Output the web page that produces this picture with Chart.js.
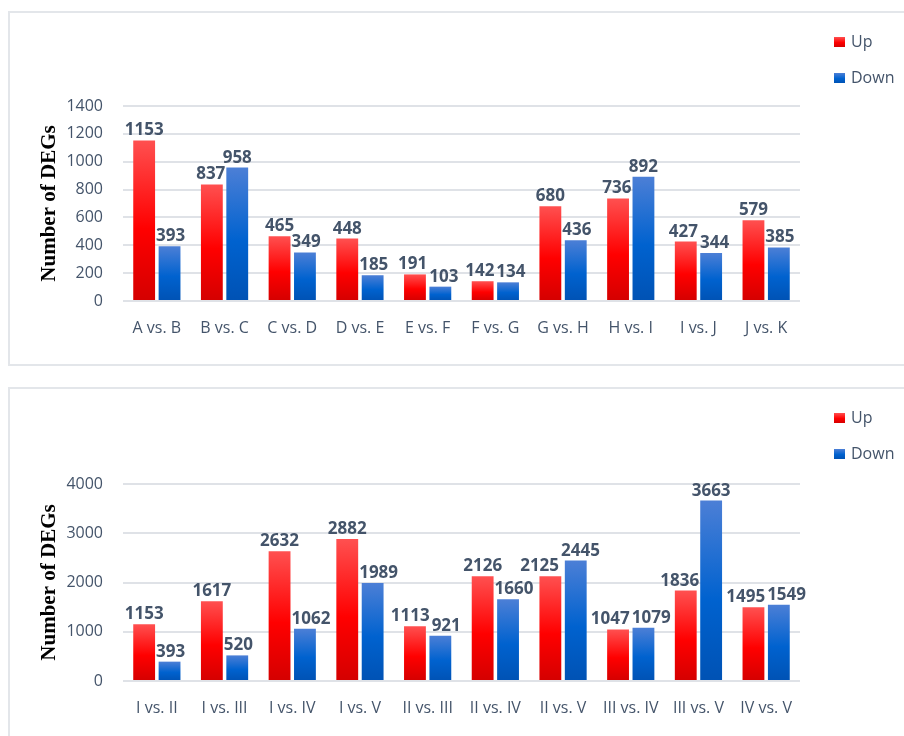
<!DOCTYPE html>
<html>
<head>
<meta charset="utf-8">
<script src="https://cdn.jsdelivr.net/npm/chart.js@4.4.1/dist/chart.umd.min.js"></script>
<style>
  html, body { margin: 0; padding: 0; background: #fff; overflow: hidden; }
  body { width: 904px; height: 736px; position: relative; }
  .panel { position: absolute; left: 8px; width: 1000px; border: 2px solid #e3e6ea; box-sizing: border-box; }
  #p1 { top: 11px; height: 355px; }
  #p2 { top: 387px; height: 400px; }
  .panel canvas { position: absolute; left: 0; top: 0; }
</style>
</head>
<body>
<div class="panel" id="p1"><canvas id="chart1" width="894" height="351"></canvas></div>
<div class="panel" id="p2"><canvas id="chart2" width="894" height="347"></canvas></div>

<script>
// Comparaciones y número de DEGs (arriba / abajo)
const seriesNames = ["Up", "Down"];

const groups1 = ["A vs. B", "B vs. C", "C vs. D", "D vs. E", "E vs. F",
                 "F vs. G", "G vs. H", "H vs. I", "I vs. J", "J vs. K"];
const up1   = [1153, 837, 465, 448, 191, 142, 680, 736, 427, 579];
const down1 = [393, 958, 349, 185, 103, 134, 436, 892, 344, 385];

const groups2 = ["I vs. II", "I vs. III", "I vs. IV", "I vs. V", "II vs. III",
                 "II vs. IV", "II vs. V", "III vs. IV", "III vs. V", "IV vs. V"];
const up2   = [1153, 1617, 2632, 2882, 1113, 2126, 2125, 1047, 1836, 1495];
const down2 = [393, 520, 1062, 1989, 921, 1660, 2445, 1079, 3663, 1549];

// eje Y: máximo y paso de cada gráfico
const yMax  = [1400, 4000];
const yStep = [200, 1000];

const TEXT = "#44546a";
const redStops  = ["#ff5050", "#ff0000", "#d40000"];
const blueStops = ["#4c7fd6", "#0062cf", "#0052b4"];

// degradado vertical por barra, desde su tope hasta la base
function barFill(stops) {
  return (c) => {
    const chart = c.chart;
    if (c.type !== "data" || !chart.chartArea) return stops[1];
    const y = chart.scales.y;
    const top = y.getPixelForValue(c.parsed.y);
    const base = y.getPixelForValue(0);
    const g = chart.ctx.createLinearGradient(0, top, 0, base);
    g.addColorStop(0, stops[0]);
    g.addColorStop(0.55, stops[1]);
    g.addColorStop(1, stops[2]);
    return g;
  };
}

// etiquetas de valor sobre cada barra; se apartan de la barra vecina
// más alta y de la otra etiqueta si chocan
const valueLabels = {
  id: "valueLabels",
  afterDatasetsDraw(chart) {
    const ctx = chart.ctx;
    ctx.save();
    ctx.font = 'bold 17px "Open Sans"';
    ctx.fillStyle = TEXT;
    ctx.textAlign = "center";
    ctx.textBaseline = "alphabetic";
    const n = chart.data.labels.length;
    for (let i = 0; i < n; i++) {
      const items = chart.data.datasets.map((ds, d) => {
        const bar = chart.getDatasetMeta(d).data[i];
        const text = String(ds.data[i]);
        return { text, bar, x: bar.x, y: bar.y - 5, w: ctx.measureText(text).width };
      });
      const [a, b] = items;
      // etiqueta roja contra barra azul más alta
      if (b.bar.y < a.y) {
        const push = (a.x + a.w / 2) - (b.bar.x - b.bar.width / 2) + 1;
        if (push > 0) a.x -= push;
      }
      // etiqueta azul contra barra roja más alta
      if (a.bar.y < b.y) {
        const push = (a.bar.x + a.bar.width / 2) - (b.x - b.w / 2) + 1;
        if (push > 0) b.x += push;
      }
      const overlap = (a.x + a.w / 2) - (b.x - b.w / 2) + 2;
      if (overlap > 0 && Math.abs(a.y - b.y) < 16) {
        a.x -= overlap / 2;
        b.x += overlap / 2;
      }
      items.forEach(it => ctx.fillText(it.text, it.x, it.y));
    }
    ctx.restore();
  }
};

// leyenda a la derecha
const sideLegend = {
  id: "sideLegend",
  afterDraw(chart, args, opts) {
    const ctx = chart.ctx;
    ctx.save();
    ctx.font = '16px "Open Sans"';
    ctx.textBaseline = "middle";
    chart.data.datasets.forEach((ds, d) => {
      const y = opts.top + d * opts.gap;
      const stops = opts.colors[d];
      const g = ctx.createLinearGradient(0, y - 5, 0, y + 5);
      g.addColorStop(0, stops[0]);
      g.addColorStop(0.55, stops[1]);
      g.addColorStop(1, stops[2]);
      ctx.fillStyle = g;
      ctx.fillRect(opts.x, y - 5, 11, 10);
      ctx.fillStyle = TEXT;
      ctx.fillText(ds.label, opts.x + 17, y);
    });
    ctx.restore();
  }
};

function makeChart(id, labels, up, down, max, step, bottomSpace, padTop) {
  return new Chart(document.getElementById(id), {
    type: "bar",
    data: {
      labels: labels,
      datasets: [
        { label: seriesNames[0], data: up, backgroundColor: barFill(redStops),
          barPercentage: 0.86, categoryPercentage: 0.75 },
        { label: seriesNames[1], data: down, backgroundColor: barFill(blueStops),
          barPercentage: 0.86, categoryPercentage: 0.75 }
      ]
    },
    options: {
      responsive: false,
      animation: false,
      layout: { padding: { top: padTop, right: 104, left: 0, bottom: 0 } },
      plugins: {
        legend: { display: false },
        tooltip: { enabled: false },
        sideLegend: { x: 824, top: 29, gap: 36, colors: [redStops, blueStops] }
      },
      scales: {
        x: {
          grid: { display: false },
          border: { display: false },
          ticks: { color: TEXT, font: { family: "Open Sans", size: 16 }, padding: 10,
                   maxRotation: 0, autoSkip: false },
          afterFit: (s) => { s.height = bottomSpace; }
        },
        y: {
          min: 0,
          max: max,
          ticks: { stepSize: step, color: TEXT, font: { family: "Open Sans", size: 16 }, padding: 20,
                   callback: (v) => String(v) },
          grid: { color: "#dfe2e7", lineWidth: 2, drawTicks: false },
          border: { display: false },
          title: {
            display: true,
            text: "Number of DEGs",
            color: "#000",
            font: { family: "Liberation Serif", size: 21, weight: "bold" },
            padding: { top: 27, bottom: 0 }
          },
          afterFit: (s) => { s.width = 113; }
        }
      }
    },
    plugins: [valueLabels, sideLegend]
  });
}

makeChart("chart1", groups1, up1, down1, yMax[0], yStep[0], 63, 93);
makeChart("chart2", groups2, up2, down2, yMax[1], yStep[1], 55, 95);
</script>
</body>
</html>
